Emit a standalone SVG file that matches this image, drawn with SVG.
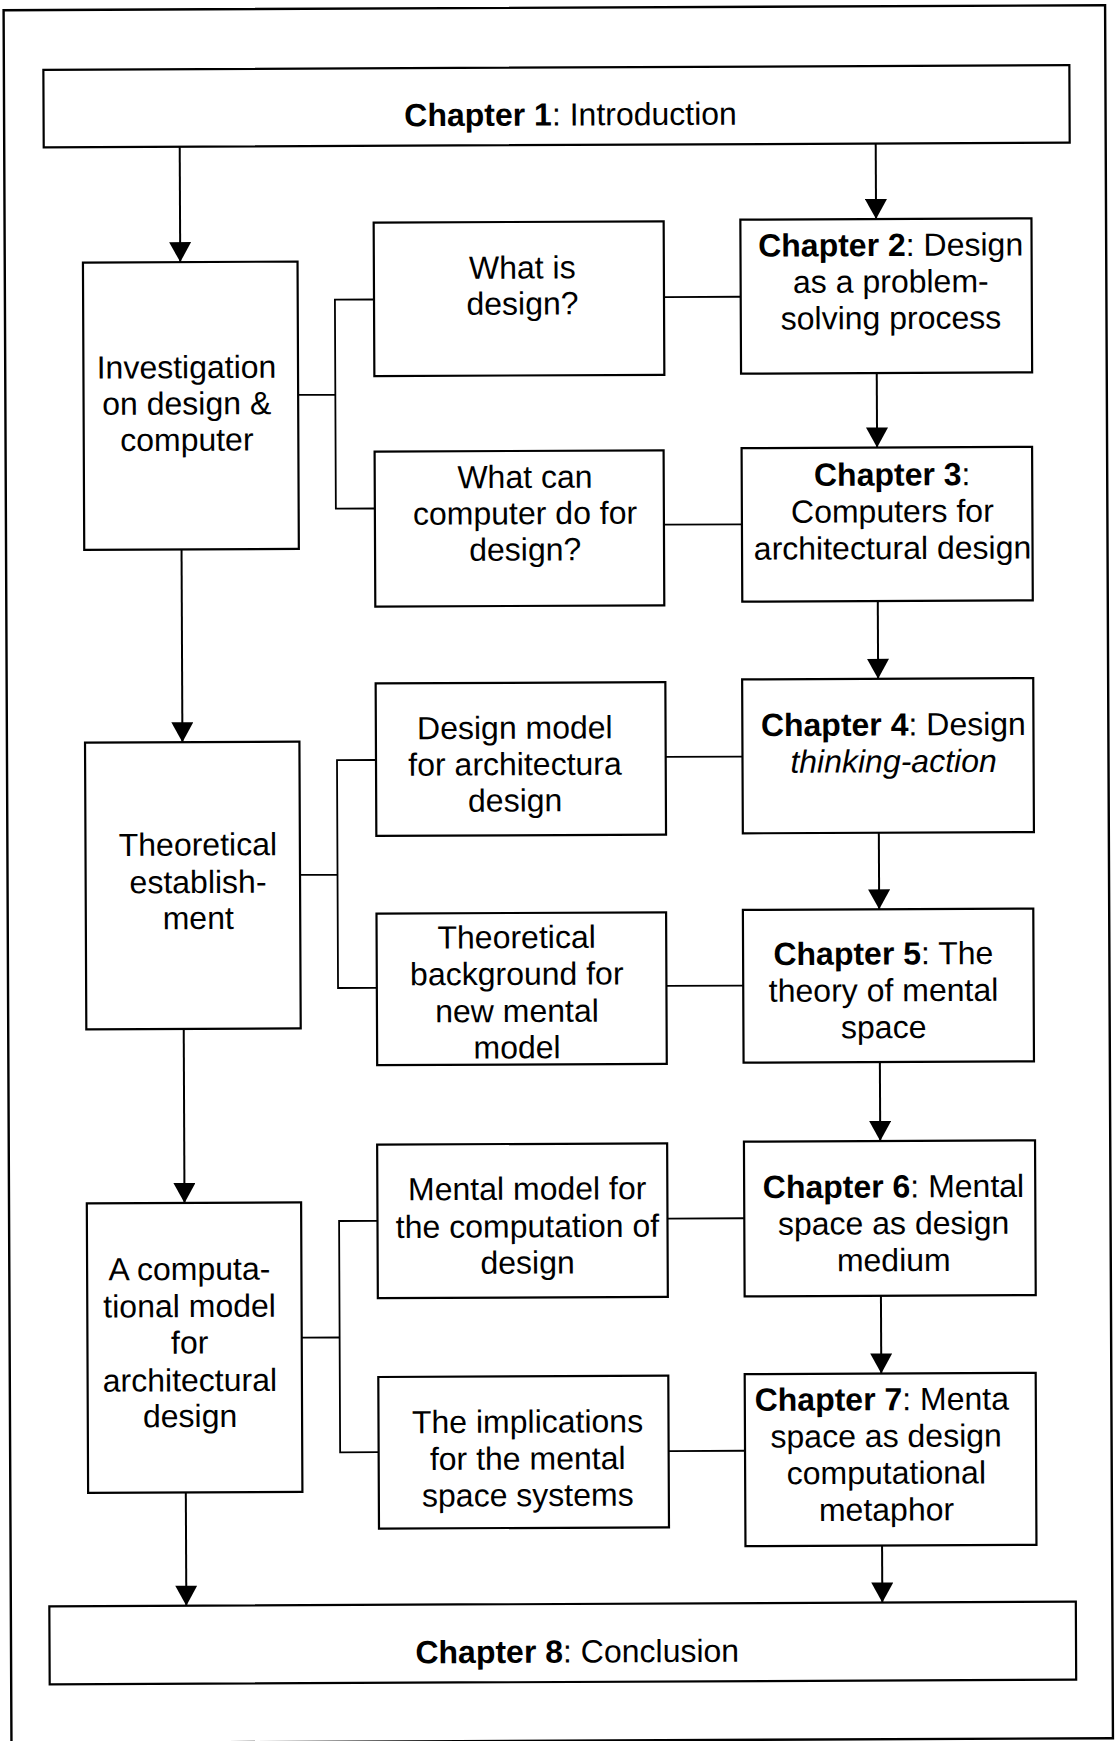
<svg xmlns="http://www.w3.org/2000/svg" width="1115" height="1741" viewBox="0 0 1115 1741">
  <defs>
    <style>
      .frame { fill: none; stroke: #000; stroke-width: 2.4; }
      .box { fill: #fff; stroke: #000; stroke-width: 2.2; }
      .link { fill: none; stroke: #000; stroke-width: 1.8; }
      .flow { fill: none; stroke: #000; stroke-width: 2; }
      text { font-family: "Liberation Sans", Arial, sans-serif; font-size: 32px; fill: #000; text-anchor: middle; }
      .b { font-weight: bold; }
      .i { font-style: italic; }
    </style>
    <marker id="arrow" markerUnits="userSpaceOnUse" markerWidth="22" markerHeight="22" viewBox="0 0 20 22" refX="20" refY="11" orient="auto">
      <path d="M0,0 L20,11 L0,22 Z" fill="#000"/>
    </marker>
  </defs>

  <rect x="0" y="0" width="1115" height="1741" fill="#fff"/>

  <!-- whole page sits slightly tilted -->
  <g transform="rotate(-0.26 557 870)">
    <rect class="frame" x="7.5" y="7.7" width="1101.5" height="1733"/>

    <!-- connectors -->
    <g id="connectors">
      <!-- main left column flow -->
      <line class="flow" x1="183" y1="145" x2="183" y2="260.4" marker-end="url(#arrow)"/>
      <line class="flow" x1="183" y1="547.7" x2="183" y2="740.5" marker-end="url(#arrow)"/>
      <line class="flow" x1="183" y1="1027.2" x2="183" y2="1201.3" marker-end="url(#arrow)"/>
      <line class="flow" x1="183" y1="1490.7" x2="183" y2="1604" marker-end="url(#arrow)"/>

      <!-- chapter chain on the right -->
      <line class="flow" x1="879" y1="145" x2="879" y2="220.5" marker-end="url(#arrow)"/>
      <line class="flow" x1="879" y1="374.5" x2="879" y2="449" marker-end="url(#arrow)"/>
      <line class="flow" x1="879" y1="602.5" x2="879" y2="680.3" marker-end="url(#arrow)"/>
      <line class="flow" x1="879" y1="834.2" x2="879" y2="910.8" marker-end="url(#arrow)"/>
      <line class="flow" x1="879" y1="1063.5" x2="879" y2="1142.5" marker-end="url(#arrow)"/>
      <line class="flow" x1="879" y1="1297.3" x2="879" y2="1375" marker-end="url(#arrow)"/>
      <line class="flow" x1="879" y1="1547" x2="879" y2="1604" marker-end="url(#arrow)"/>

      <!-- brackets from each stage to its two questions -->
      <polyline class="link" points="300.3,393.8 337.5,393.8"/>
      <polyline class="link" points="376.6,298.7 337.5,298.7 337.5,507.7 376.5,507.7"/>
      <polyline class="link" points="300,873.8 337.5,873.8"/>
      <polyline class="link" points="376.5,759.2 337.5,759.2 337.5,987 376.3,987"/>
      <polyline class="link" points="299.6,1336.5 337.5,1336.5"/>
      <polyline class="link" points="375.9,1220 337.5,1220 337.5,1451.3 376,1451.3"/>

      <!-- questions to chapters -->
      <line class="link" x1="666.6" y1="297.6" x2="743.3" y2="297.6"/>
      <line class="link" x1="665.5" y1="525.2" x2="743.5" y2="525.2"/>
      <line class="link" x1="666.2" y1="757.4" x2="743" y2="757.4"/>
      <line class="link" x1="665.9" y1="986.4" x2="742.7" y2="986.4"/>
      <line class="link" x1="665.9" y1="1219.1" x2="742.7" y2="1219.1"/>
      <line class="link" x1="666" y1="1451.6" x2="742.4" y2="1451.6"/>
    </g>

    <g id="ch1">
      <rect class="box" x="47" y="67.5" width="1026" height="77.5"/>
      <text x="574" y="125.5"><tspan class="b">Chapter 1</tspan>: Introduction</text>
    </g>

    <g id="investigation">
      <rect class="box" x="85.7" y="260.4" width="214.6" height="287.3"/>
      <text x="188.8" y="376.5">Investigation</text>
      <text x="188.8" y="412.8">on design &amp;</text>
      <text x="188.8" y="449.1">computer</text>
    </g>

    <g id="q-what-is-design">
      <rect class="box" x="376.6" y="221.8" width="290" height="153.5"/>
      <text x="525" y="278.4">What is</text>
      <text x="525" y="314.4">design?</text>
    </g>

    <g id="ch2">
      <rect class="box" x="743.3" y="220.5" width="291.1" height="154"/>
      <text x="893.5" y="257.5"><tspan class="b">Chapter 2</tspan>: Design</text>
      <text x="893.5" y="294">as a problem-</text>
      <text x="893.5" y="330.5">solving process</text>
    </g>

    <g id="q-computer">
      <rect class="box" x="376.5" y="450.8" width="289" height="155"/>
      <text x="526.7" y="487.8">What can</text>
      <text x="526.7" y="524.1">computer do for</text>
      <text x="526.7" y="560.4">design?</text>
    </g>

    <g id="ch3">
      <rect class="box" x="743.5" y="449" width="290.5" height="153.5"/>
      <text x="894" y="487"><tspan class="b">Chapter 3</tspan>:</text>
      <text x="894" y="523.8">Computers for</text>
      <text x="894" y="560.6">architectural design</text>
    </g>

    <g id="theoretical">
      <rect class="box" x="85.6" y="740.5" width="214.4" height="286.7"/>
      <text x="198" y="853.9">Theoretical</text>
      <text x="198" y="891.4">establish-</text>
      <text x="198" y="927.4">ment</text>
    </g>

    <g id="q-design-model">
      <rect class="box" x="376.5" y="682.6" width="289.7" height="152.5"/>
      <text x="515.5" y="738.6">Design model</text>
      <text x="515.5" y="775">for architectura</text>
      <text x="515.5" y="811.3">design</text>
    </g>

    <g id="ch4">
      <rect class="box" x="743" y="680.3" width="291.1" height="153.9"/>
      <text x="894" y="737"><tspan class="b">Chapter 4</tspan>: Design</text>
      <text x="894" y="773.8" class="i">thinking-action</text>
    </g>

    <g id="q-background">
      <rect class="box" x="376.3" y="912.8" width="289.6" height="151.6"/>
      <text x="516.3" y="948">Theoretical</text>
      <text x="516.3" y="984.7">background for</text>
      <text x="516.3" y="1021.8">new mental</text>
      <text x="516.3" y="1058.2">model</text>
    </g>

    <g id="ch5">
      <rect class="box" x="742.7" y="910.8" width="290.4" height="152.7"/>
      <text x="883" y="966"><tspan class="b">Chapter 5</tspan>: The</text>
      <text x="883" y="1002.8">theory of mental</text>
      <text x="883" y="1039.6">space</text>
    </g>

    <g id="computational-model">
      <rect class="box" x="85.3" y="1201.3" width="214.3" height="289.4"/>
      <text x="187.6" y="1278.3">A computa-</text>
      <text x="187.6" y="1315.4">tional model</text>
      <text x="187.6" y="1351.9">for</text>
      <text x="187.6" y="1389.6">architectural</text>
      <text x="187.6" y="1425.4">design</text>
    </g>

    <g id="q-mental-model">
      <rect class="box" x="375.9" y="1143.8" width="290" height="153.6"/>
      <text x="525.8" y="1199.6">Mental model for</text>
      <text x="525.8" y="1237.2">the computation of</text>
      <text x="525.8" y="1273.4">design</text>
    </g>

    <g id="ch6">
      <rect class="box" x="742.7" y="1142.5" width="291.1" height="154.8"/>
      <text x="892" y="1199"><tspan class="b">Chapter 6</tspan>: Mental</text>
      <text x="892" y="1235.8">space as design</text>
      <text x="892" y="1272.6">medium</text>
    </g>

    <g id="q-implications">
      <rect class="box" x="376" y="1376.2" width="290" height="151.6"/>
      <text x="525" y="1432.5">The implications</text>
      <text x="525" y="1469.4">for the mental</text>
      <text x="525" y="1506">space systems</text>
    </g>

    <g id="ch7">
      <rect class="box" x="742.4" y="1375" width="291" height="172"/>
      <text x="879.4" y="1411.7"><tspan class="b">Chapter 7</tspan>: Menta</text>
      <text x="883.6" y="1448.5">space as design</text>
      <text x="883.6" y="1485.3">computational</text>
      <text x="883.6" y="1522.1">metaphor</text>
    </g>

    <g id="ch8">
      <rect class="box" x="46" y="1604" width="1026.5" height="78"/>
      <text x="573.7" y="1662.6"><tspan class="b">Chapter 8</tspan>: Conclusion</text>
    </g>
  </g>
</svg>
